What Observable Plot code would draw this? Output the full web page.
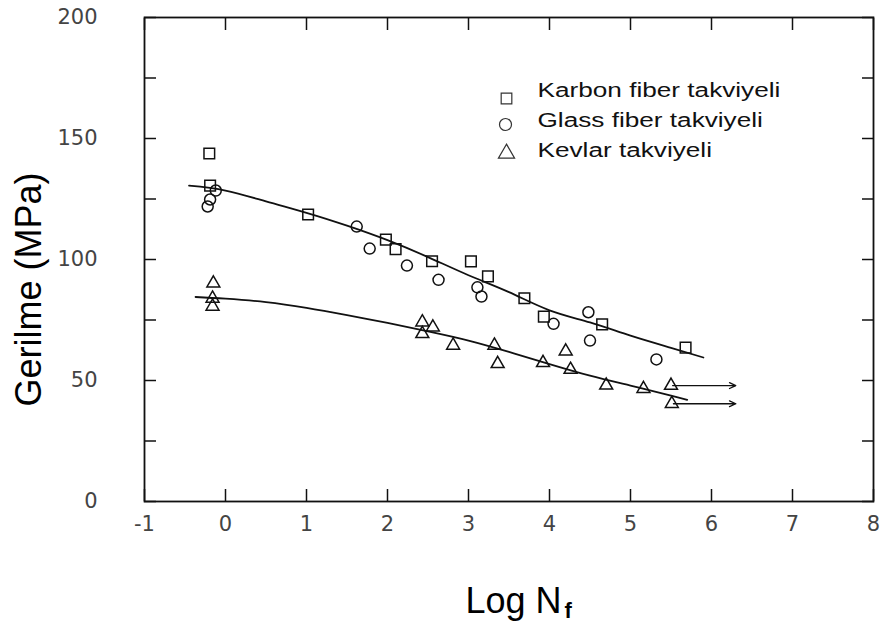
<!DOCTYPE html>
<html>
<head>
<meta charset="utf-8">
<script src="https://cdn.jsdelivr.net/npm/d3@7"></script>
<script src="https://cdn.jsdelivr.net/npm/@observablehq/plot@0.6"></script>
<style>
  html, body { margin: 0; padding: 0; background: #fff; }
  #chart { width: 882px; height: 621px; }
</style>
</head>
<body>
<div id="chart"></div>
<script>
// ---- tick labels ----
const xTicks = [-1, 0, 1, 2, 3, 4, 5, 6, 7, 8];
const yTickLabels = [0, 50, 100, 150, 200];
const yTicksAll = [0, 25, 50, 75, 100, 125, 150, 175, 200];

// ---- text ----
const seriesNames = ["Karbon fiber takviyeli", "Glass fiber takviyeli", "Kevlar takviyeli"];
const yLabel = "Gerilme (MPa)";
const xLabelMain = "Log N";
const xLabelSub = "f";

// ---- data (log N, MPa) ----
const karbonX = [-0.20, -0.19, 1.02, 1.98, 2.10, 2.55, 3.03, 3.24, 3.69, 3.93, 4.65, 5.68];
const karbonY = [143.8, 130.5, 118.6, 108.2, 104.3, 99.3, 99.2, 93.0, 84.0, 76.4, 73.2, 63.6];

const glassX = [-0.22, -0.19, -0.12, 1.62, 1.78, 2.24, 2.63, 3.11, 3.16, 4.05, 4.48, 4.50, 5.32];
const glassY = [121.9, 124.8, 128.5, 113.6, 104.5, 97.5, 91.6, 88.5, 84.7, 73.4, 78.2, 66.5, 58.7];

const kevlarX = [-0.15, -0.16, -0.16, 2.43, 2.56, 2.43, 2.81, 3.32, 3.36, 3.92, 4.20, 4.26, 4.70, 5.16, 5.50, 5.51];
const kevlarY = [90.2, 83.9, 80.6, 74.1, 72.0, 69.3, 64.5, 64.5, 56.9, 57.3, 62.1, 54.5, 48.0, 46.6, 47.9, 40.4];

// fitted curves
const fitUpperX = [-0.45, 0, 0.5, 1, 1.5, 2, 2.5, 3, 3.5, 4, 4.5, 5, 5.5, 5.9];
const fitUpperY = [130.5, 128.5, 124.0, 119.3, 114.0, 108.0, 101.0, 93.5, 86.5, 79.0, 74.0, 68.5, 63.5, 59.5];

const fitLowerX = [-0.37, 0, 0.5, 1, 1.5, 2, 2.5, 3, 3.5, 4, 4.5, 5, 5.5, 5.7];
const fitLowerY = [84.5, 83.8, 82.4, 80.0, 77.0, 73.8, 70.3, 66.5, 61.8, 56.8, 52.0, 47.9, 43.8, 42.0];

// run-out arrows (specimens that did not fail)
const runoutX1 = [5.52, 5.53];
const runoutX2 = [6.30, 6.30];
const runoutY = [47.9, 40.4];

// ---- tables ----
const pts = (xs, ys) => xs.map((x, i) => ({x, y: ys[i]}));
const karbon = pts(karbonX, karbonY);
const glass = pts(glassX, glassY);
const kevlar = pts(kevlarX, kevlarY);
const fitUpper = pts(fitUpperX, fitUpperY);
const fitLower = pts(fitLowerX, fitLowerY);
const runouts = runoutY.map((y, i) => ({x1: runoutX1[i], x2: runoutX2[i], y}));

const ink = "#111";
const tickFont = {fontSize: 21, fill: "#444", fontFamily: "DejaVu Sans"};
const blank = () => "";
const plain = d => `${d}`;

const svg = Plot.plot({
  width: 882,
  height: 621,
  marginLeft: 144,
  marginRight: 9,
  marginTop: 17,
  marginBottom: 120,
  style: {background: "#fff", fontFamily: "Liberation Sans", overflow: "visible"},
  x: {domain: [-1, 8]},
  y: {domain: [0, 200]},
  marks: [
    // axis labels (numbers)
    Plot.axisY(yTickLabels, {anchor: "left", tickSize: 0, tickPadding: 47, label: null, tickFormat: plain, ...tickFont}),
    Plot.axisX(xTicks, {anchor: "bottom", tickSize: 0, tickPadding: 15, label: null, tickFormat: plain, ...tickFont}),
    // inward ticks
    Plot.axisY(yTicksAll, {anchor: "left", tickSize: -12, tickFormat: blank, label: null, stroke: ink, strokeWidth: 1.5}),
    Plot.axisY(yTicksAll, {anchor: "right", tickSize: -12, tickFormat: blank, label: null, stroke: ink, strokeWidth: 1.5}),
    Plot.axisX(xTicks, {anchor: "bottom", tickSize: -12, tickFormat: blank, label: null, stroke: ink, strokeWidth: 1.5}),
    Plot.axisX(xTicks, {anchor: "top", tickSize: -12, tickFormat: blank, label: null, stroke: ink, strokeWidth: 1.5}),
    Plot.frame({stroke: ink, strokeWidth: 1.8}),

    // fitted curves
    Plot.line(fitUpper, {x: "x", y: "y", curve: "natural", stroke: ink, strokeWidth: 1.8}),
    Plot.line(fitLower, {x: "x", y: "y", curve: "natural", stroke: ink, strokeWidth: 1.8}),

    // run-out arrows
    Plot.arrow(runouts, {x1: "x1", y1: "y", x2: "x2", y2: "y", stroke: ink, strokeWidth: 1.3, headLength: 8, headAngle: 50}),

    // data points
    Plot.dot(karbon, {x: "x", y: "y", symbol: "square", r: 6, stroke: ink, strokeWidth: 1.5, fill: "none"}),
    Plot.dot(glass, {x: "x", y: "y", symbol: "circle", r: 5.5, stroke: ink, strokeWidth: 1.5, fill: "none"}),
    Plot.dot(kevlar, {x: "x", y: "y", symbol: "triangle", r: 4.8, stroke: ink, strokeWidth: 1.5, fill: "none"}),

    // legend
    Plot.dot([seriesNames[0]], {frameAnchor: "top-left", dx: 362, dy: 81, symbol: "square", r: 6, stroke: "#333", strokeWidth: 1.2, fill: "none"}),
    Plot.dot([seriesNames[1]], {frameAnchor: "top-left", dx: 361, dy: 107, symbol: "circle", r: 6, stroke: "#333", strokeWidth: 1.2, fill: "none"}),
    Plot.dot([seriesNames[2]], {frameAnchor: "top-left", dx: 362, dy: 136, symbol: "triangle", r: 6, stroke: "#333", strokeWidth: 1.2, fill: "none"}),
    Plot.text([seriesNames.join("\n")], {
      text: d => d, frameAnchor: "top-left", dx: 393, dy: 58,
      textAnchor: "start", lineAnchor: "top", lineHeight: 1.43,
      fontSize: 21, fill: ink, fontFamily: "Liberation Sans"
    }),

    // axis titles
    Plot.text([yLabel], {
      text: d => d, frameAnchor: "left", dx: -115, dy: 30, rotate: -90,
      textAnchor: "middle", lineAnchor: "middle", fontSize: 36, fill: "#000"
    }),
    Plot.text([xLabelMain], {
      text: d => d, frameAnchor: "bottom-left", dx: 321, dy: 111,
      textAnchor: "start", lineAnchor: "bottom", fontSize: 36, fill: "#000"
    }),
    Plot.text([xLabelSub], {
      text: d => d, frameAnchor: "bottom-left", dx: 420, dy: 116,
      textAnchor: "start", lineAnchor: "bottom", fontSize: 22, fontWeight: "bold", fill: "#000"
    })
  ]
});

document.getElementById("chart").append(svg);

// widen the legend lettering horizontally, as in the reference
const legendWidth = 243;
Array.from(svg.querySelectorAll("text"))
  .filter(t => t.textContent.startsWith(seriesNames[0]))
  .forEach(t => {
    let w = 0;
    try { w = t.getBBox().width; } catch (e) { w = 0; }
    const k = w > 0 ? legendWidth / w : 1.2;
    const prev = t.getAttribute("transform") || "";
    t.setAttribute("transform", `${prev} scale(${k.toFixed(4)},1)`);
  });
</script>
</body>
</html>
